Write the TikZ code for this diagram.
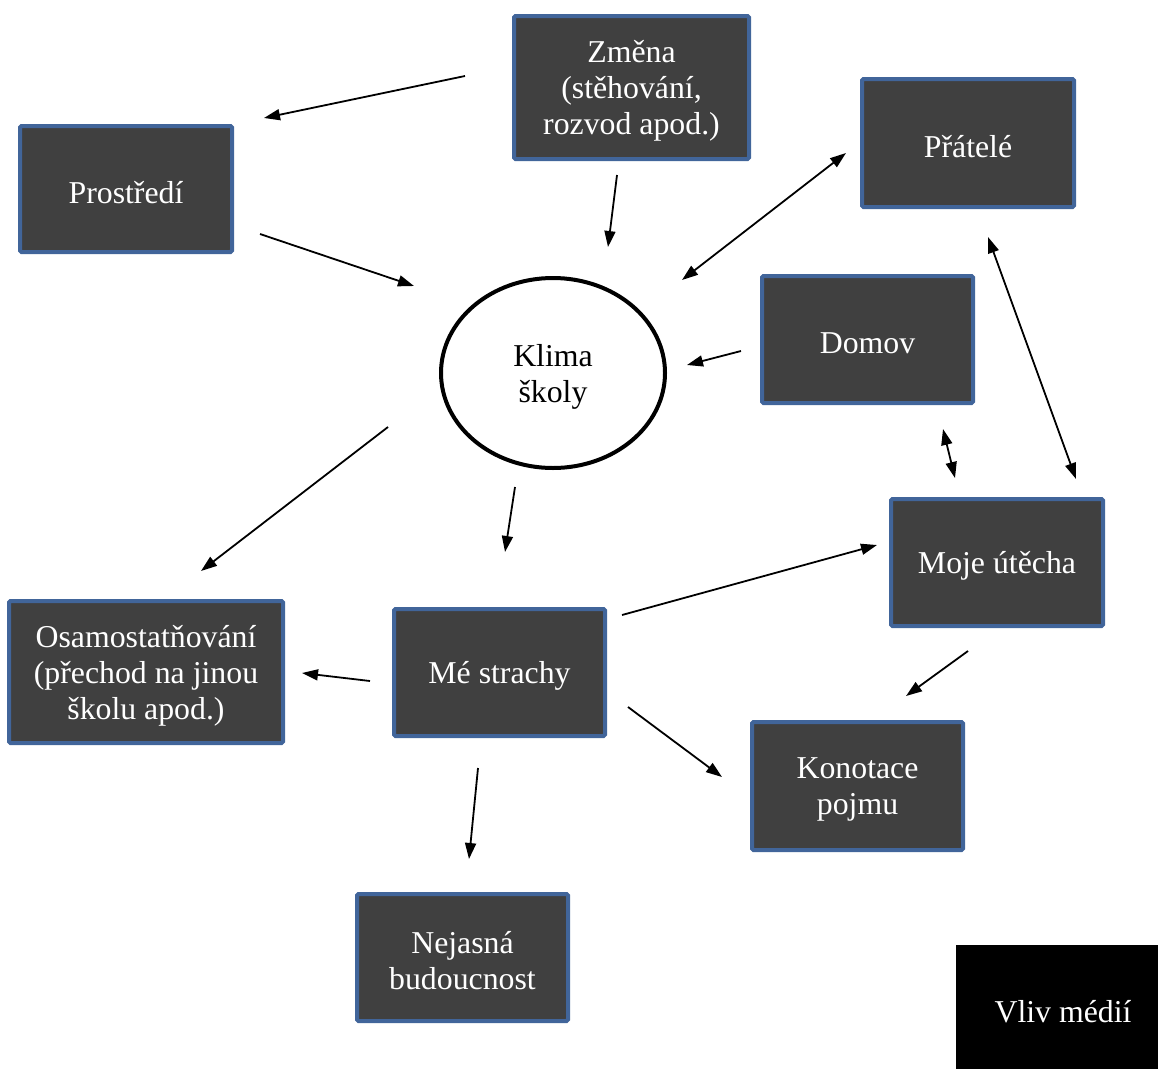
\documentclass[tikz,border=0pt]{standalone}
\usepackage{fontspec}
\setmainfont{Liberation Serif}
\usetikzlibrary{arrows.meta,shapes.geometric}
\definecolor{boxfill}{HTML}{404040}
\definecolor{boxedge}{HTML}{41659A}
\begin{document}
\begin{tikzpicture}[x=1pt,y=-1pt,
  every node/.style={font=\fontsize{31.8}{36}\selectfont, align=center, inner sep=0pt},
  topic/.style={draw=boxedge, line width=4pt, fill=boxfill, rounded corners=1.5pt},
  caption/.style={text=white},
  link/.style={line width=1.8pt, -{Triangle[length=16pt,width=11pt]}},
  twoway/.style={line width=1.8pt, {Triangle[length=16pt,width=11pt]}-{Triangle[length=16pt,width=11pt]}}]
\useasboundingbox (0,0) rectangle (1158,1068);

% boxes, given by their corners, with the caption set a little low
\newcommand{\topicbox}[6]{%
  \node[topic, minimum width=#3-#1, minimum height=#4-#2] (#5) at ({(#1+#3)/2},{(#2+#4)/2}) {};
  \node[caption] (#5-text) at ([yshift=-3.5pt]#5.center) {#6};}
\topicbox{514}{16}{749}{159}{zmena}{Změna\\(stěhování,\\rozvod apod.)}
\topicbox{20}{126}{232}{252}{prostredi}{Prostředí}
\topicbox{862}{79}{1074}{207}{pratele}{Přátelé}
\topicbox{762}{276}{973}{403}{domov}{Domov}
\topicbox{891}{499}{1103}{626}{utecha}{Moje útěcha}
\topicbox{9}{601}{283}{743}{osamost}{Osamostatňování\\(přechod na jinou\\školu apod.)}
\topicbox{394}{609}{605}{736}{strachy}{Mé strachy}
\topicbox{752}{722}{963}{850}{konotace}{Konotace\\pojmu}
\topicbox{357}{894}{568}{1021}{budoucnost}{Nejasná\\budoucnost}

\node[fill=black, minimum width=214, minimum height=126, anchor=north west] (media) at (956,945) {};
\node[caption] (media-text) at (1063,1012) {Vliv médií};

\node[draw=black, line width=4pt, ellipse, minimum width=224, minimum height=190, fill=white] (klima) at (553,373) {};
\node (klima-text) at ([yshift=-3.5pt]klima.center) {Klima\\školy};

% arrow end points
\coordinate (a1) at (465,76);  \coordinate (b1) at (264,118);
\coordinate (a2) at (617,175); \coordinate (b2) at (608,247);
\coordinate (a3) at (260,234); \coordinate (b3) at (414,286);
\coordinate (a4) at (846,153); \coordinate (b4) at (682,280);
\coordinate (a5) at (741,351); \coordinate (b5) at (687,365);
\coordinate (a6) at (988,237); \coordinate (b6) at (1076,479);
\coordinate (a7) at (943,429); \coordinate (b7) at (955,478);
\coordinate (a8) at (388,427); \coordinate (b8) at (201,571);
\coordinate (a9) at (515,487); \coordinate (b9) at (505,552);
\coordinate (a10) at (622,615); \coordinate (b10) at (877,545);
\coordinate (a11) at (968,651); \coordinate (b11) at (906,696);
\coordinate (a12) at (370,681); \coordinate (b12) at (302,673);
\coordinate (a13) at (628,707); \coordinate (b13) at (722,777);
\coordinate (a14) at (478,768); \coordinate (b14) at (469,859);

\draw[link] (a1) -- (b1);
\draw[link] (a2) -- (b2);
\draw[link] (a3) -- (b3);
\draw[twoway] (a4) -- (b4);
\draw[link] (a5) -- (b5);
\draw[twoway] (a6) -- (b6);
\draw[twoway] (a7) -- (b7);
\draw[link] (a8) -- (b8);
\draw[link] (a9) -- (b9);
\draw[link] (a10) -- (b10);
\draw[link] (a11) -- (b11);
\draw[link] (a12) -- (b12);
\draw[link] (a13) -- (b13);
\draw[link] (a14) -- (b14);
\end{tikzpicture}
\end{document}
